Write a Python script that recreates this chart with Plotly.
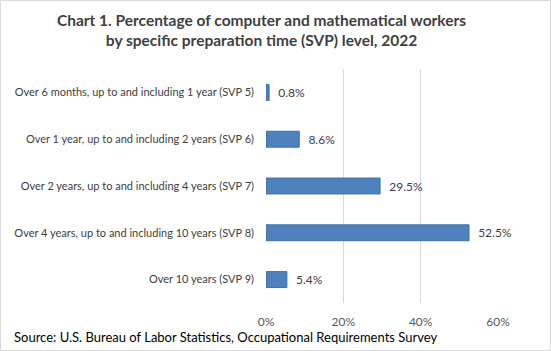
import plotly.graph_objects as go

categories = [
    "Over 6 months, up to and including 1 year (SVP 5)",
    "Over 1 year, up to and including 2 years (SVP 6)",
    "Over 2 years, up to and including 4 years (SVP 7)",
    "Over 4 years, up to and including 10 years (SVP 8)",
    "Over 10 years (SVP 9)",
]
values = [0.8, 8.6, 29.5, 52.5, 5.4]
tick_vals = [0, 20, 40, 60]
tick_text = ["0%", "20%", "40%", "60%"]

W, H = 551, 351
ml, mr, mt, mb = 266, 53, 69, 48
FONT = "Lato, Open Sans, sans-serif"

fig = go.Figure(go.Bar(
    x=values, y=categories, orientation="h",
    marker=dict(color="#4f81bd", line=dict(color="#3d6fa8", width=1)),
    text=["\u00a0\u00a0" + f"{v:.1f}%" for v in values], textposition="outside",
    textfont=dict(family=FONT, size=12, color="#404040"),
    cliponaxis=False, width=0.34,
))

pw = W - ml - mr
ph = H - mt - mb
fig.add_shape(type="rect", xref="paper", yref="paper",
              x0=(-ml + 0.5) / pw, x1=(pw + mr - 0.5) / pw,
              y0=(-mb + 0.5) / ph, y1=(ph + mt - 0.5) / ph,
              line=dict(color="#d9d9d9", width=1), layer="below")

fig.update_layout(
    width=W, height=H,
    margin=dict(l=ml, r=mr, t=mt, b=mb),
    paper_bgcolor="white", plot_bgcolor="white",
    title=dict(text="<b>Chart 1. Percentage of computer and mathematical workers<br>by specific preparation time (SVP) level, 2022</b>",
               xref="container", x=261.5 / W, xanchor="center", y=0.925, yanchor="top",
               font=dict(family=FONT, size=15.5, color="#404040")),
    xaxis=dict(range=[0, 60], tickvals=tick_vals, ticktext=tick_text,
               showgrid=True, gridcolor="#d9d9d9", gridwidth=1,
               zeroline=False, showline=False, ticks="", ticklabelstandoff=10,
               tickfont=dict(family=FONT, size=12, color="#595959")),
    yaxis=dict(autorange="reversed", showgrid=False, showline=False, ticks="",
               ticklabelstandoff=11,
               tickfont=dict(family=FONT, size=11, color="#404040")),
    showlegend=False,
    annotations=[dict(text="Source: U.S. Bureau of Labor Statistics, Occupational Requirements Survey",
                      xref="paper", yref="paper", x=(12 - ml) / pw, y=(-(337 - mt - ph)) / ph,
                      xanchor="left", yanchor="middle", showarrow=False,
                      font=dict(family=FONT, size=13, color="#000000"))],
)
fig.write_html("out.html")
